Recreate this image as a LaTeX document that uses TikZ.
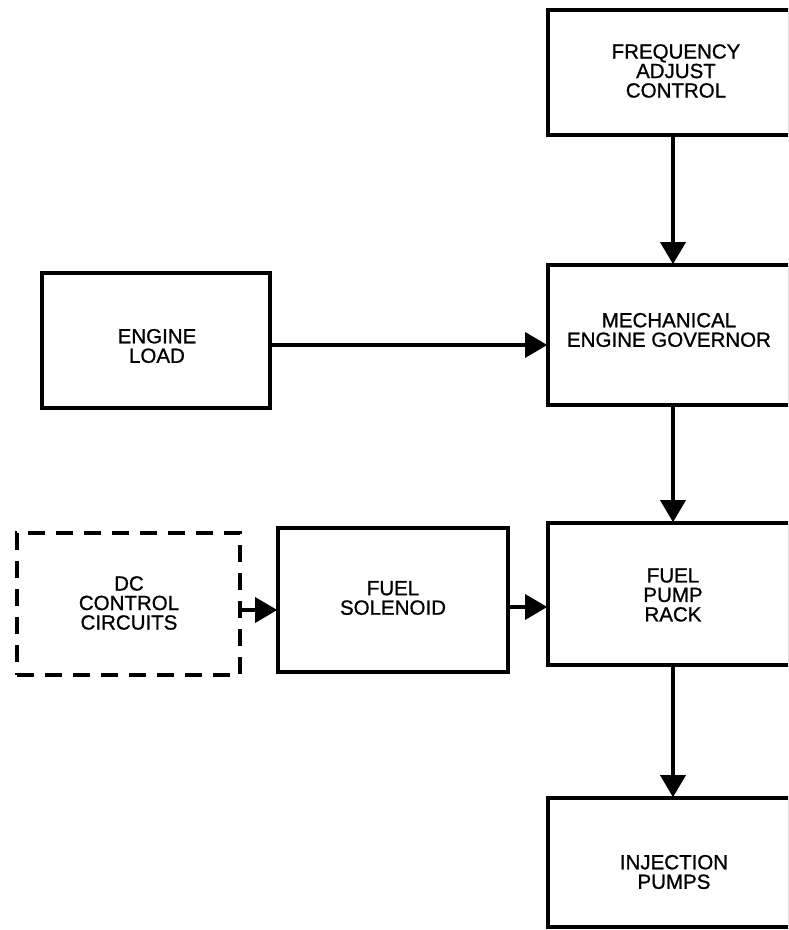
\documentclass[tikz,border=0pt]{standalone}
\usepackage{fontspec}
\setmainfont{Liberation Sans}
\newfontfamily\lblfont{Liberation Sans}[FakeBold=0.9]
\usetikzlibrary{arrows.meta}
\begin{document}
\begin{tikzpicture}[x=1pt,y=1pt,
  box/.style={draw, line width=3.6pt, rectangle, inner sep=0pt},
  dbox/.style={draw, line width=3.8pt, rectangle, inner sep=0pt, dash pattern=on 17pt off 11pt},
  lbl/.style={align=center, font=\lblfont\fontsize{20.5pt}{19.5pt}\selectfont, inner sep=0pt},
  arr/.style={line width=3.4pt, -{Triangle[length=22pt,width=25pt]}, shorten >=-1pt}]
\useasboundingbox (0,0) rectangle (788,930);
\clip (0,0) rectangle (788,930);
% boxes (image y -> 930 - y)
\node[box, minimum width=242pt, minimum height=125pt] (freq) at (669,857.5) {};
\node[box, minimum width=242pt, minimum height=140pt] (gov) at (669,595) {};
\node[box, minimum width=228pt, minimum height=135pt] (load) at (156,589.5) {};
\node[box, minimum width=242pt, minimum height=142pt] (rack) at (669,336) {};
\node[dbox, minimum width=223pt, minimum height=142pt] (dc) at (128.5,326) {};
\node[box, minimum width=230pt, minimum height=144pt] (sol) at (393,330) {};
\node[box, minimum width=242pt, minimum height=129pt] (inj) at (669,67.5) {};
% labels
\node[lbl] (tfreq) at (676,859) {FREQUENCY\\ADJUST\\CONTROL};
\node[lbl] (tgov) at (669,600) {MECHANICAL\\ENGINE GOVERNOR};
\node[lbl] (tload) at (157,584) {ENGINE\\LOAD};
\node[lbl] (track) at (673,335) {FUEL\\PUMP\\RACK};
\node[lbl] (tdc) at (129,327) {DC\\CONTROL\\CIRCUITS};
\node[lbl] (tsol) at (393,332) {FUEL\\SOLENOID};
\node[lbl] (tinj) at (674,58) {INJECTION\\PUMPS};
% connectors
\coordinate (a1) at (673,0);
\draw[arr] (freq.south -| a1) -- (gov.north -| a1);
\draw[arr] (gov.south -| a1) -- (rack.north -| a1);
\draw[arr] (rack.south -| a1) -- (inj.north -| a1);
\coordinate (h1) at (0,585);
\draw[arr] (load.east |- h1) -- (gov.west |- h1);
\coordinate (h2) at (0,320);
\draw[arr] (dc.east |- h2) -- (sol.west |- h2);
\coordinate (h3) at (0,323);
\draw[arr] (sol.east |- h3) -- (rack.west |- h3);
\end{tikzpicture}
\end{document}
